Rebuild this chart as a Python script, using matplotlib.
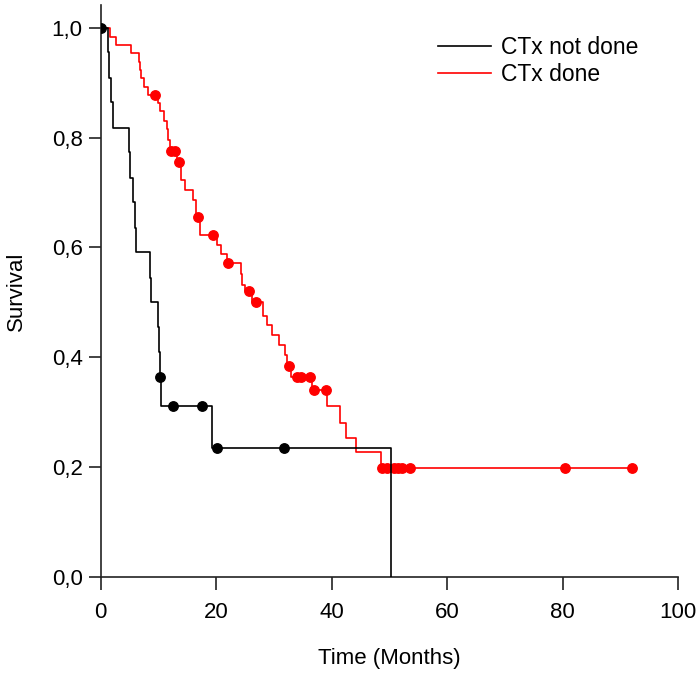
import numpy as np
import matplotlib.pyplot as plt

plt.rcParams['font.family'] = ['Liberation Sans', 'DejaVu Sans']

# CTx not done: step change times and survival after each step
t_nd = [0, 1.2, 1.4, 1.8, 2.1, 4.9, 5.1, 5.6, 6.0, 6.1, 8.5, 8.7, 9.9, 10.1, 10.25, 10.45, 19.2, 50.3]
s_nd = [1.0, 0.955, 0.909, 0.864, 0.818, 0.773, 0.727, 0.682, 0.636, 0.591,
        0.545, 0.500, 0.455, 0.409, 0.364, 0.312, 0.234, 0.0]
cens_nd = [0, 10.3, 12.5, 17.6, 20.2, 31.7]

# CTx done
t_d = [0, 1.6, 2.7, 5.3, 6.6, 6.8, 7.0, 7.5, 8.2, 9.9, 10.3, 11.0, 11.4, 11.7, 11.9,
       13.2, 13.9, 14.6, 15.9, 16.5, 17.2, 20.1, 20.9, 21.8, 24.3, 24.5, 25.0, 26.2,
       28.0, 28.7, 29.6, 30.9, 31.9, 32.3, 33.0, 36.5, 39.2, 41.4, 42.5, 44.2, 48.6]
s_d = [1.0, 0.984, 0.969, 0.954, 0.938, 0.923, 0.908, 0.893, 0.878, 0.863, 0.848,
       0.831, 0.815, 0.795, 0.775, 0.755, 0.723, 0.705, 0.687, 0.656, 0.623, 0.604,
       0.588, 0.571, 0.551, 0.532, 0.520, 0.500, 0.476, 0.459, 0.441, 0.423, 0.404,
       0.385, 0.365, 0.341, 0.311, 0.281, 0.253, 0.228, 0.198]
t_d_end = 91.9
cens_d = [9.4, 12.2, 12.9, 13.6, 16.8, 19.5, 22.1, 25.6, 26.9, 32.6, 33.9, 34.6, 36.3,
          36.9, 39.0, 48.7, 49.6, 50.7, 51.5, 52.1, 53.6, 80.3, 91.9]


def level(times, surv, c):
    i = np.searchsorted(times, c, side='right') - 1
    return np.array(surv)[i]


fig = plt.figure(figsize=(7, 6.74), dpi=100)
ax = fig.add_axes([0.144, 0.144, 0.825, 0.849])

ax.step(t_d + [t_d_end], s_d + [s_d[-1]], where='post', color='#ff0000', lw=1.2,
        label='CTx done', zorder=2)
ax.plot(cens_d, level(t_d, s_d, cens_d), 'o', color='#ff0000', ms=6.8, mec='#ff0000', zorder=3)

ax.step(t_nd, s_nd, where='post', color='black', lw=1.2, label='CTx not done', zorder=4)
ax.plot(cens_nd, level(t_nd, s_nd, cens_nd), 'o', color='black', ms=6.8, zorder=5)

ax.set_xlim(0, 100)
ax.set_ylim(0, 1.042)
ax.set_xticks([0, 20, 40, 60, 80, 100])
ax.set_yticks([0, 0.2, 0.4, 0.6, 0.8, 1.0])
ax.set_yticklabels(['0,0', '0,2', '0,4', '0,6', '0,8', '1,0'])
ax.tick_params(length=9, width=1.2, labelsize=16, color='#222222')
ax.tick_params(axis='x', pad=9)
ax.tick_params(axis='y', pad=4)
for s in ['top', 'right']:
    ax.spines[s].set_visible(False)
for s in ['left', 'bottom']:
    ax.spines[s].set_linewidth(1.2)
    ax.spines[s].set_color('#222222')

ax.set_xlabel('Time (Months)', fontsize=16, labelpad=18)
ax.set_ylabel('Survival', fontsize=16, labelpad=18)

h, l = ax.get_legend_handles_labels()
ax.legend(h[::-1], l[::-1], loc='upper left', bbox_to_anchor=(0.548, 0.982), frameon=False,
          fontsize=16.5, handlelength=2.3, handletextpad=0.45, labelspacing=0.2)

fig.savefig('out.png')
